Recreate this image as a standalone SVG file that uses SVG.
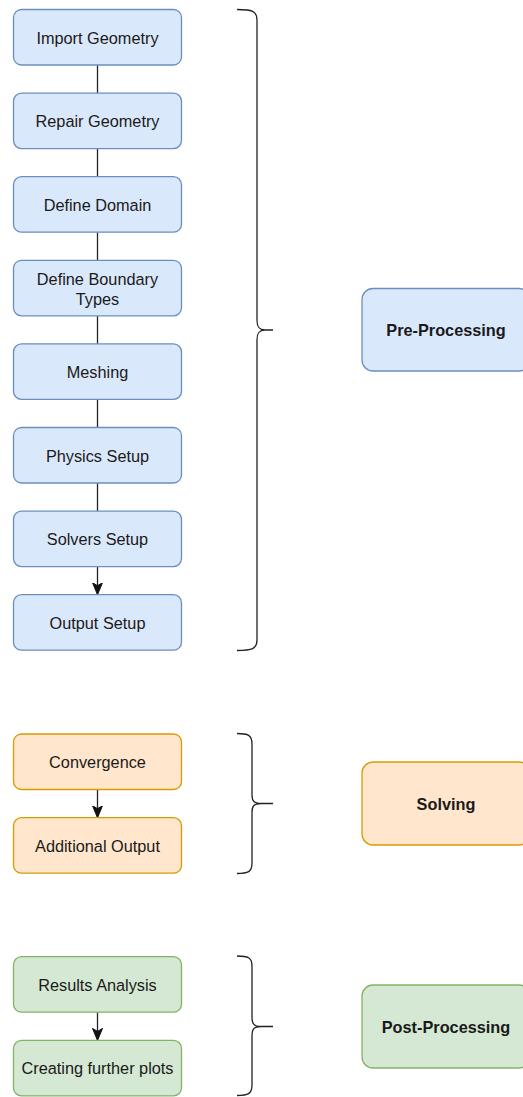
<svg xmlns="http://www.w3.org/2000/svg" width="523" height="1097" viewBox="0 0 523 1097">
<style>
.blue{fill:#dae8fc;stroke:#6c8ebf;stroke-width:1.3}
.orange{fill:#ffe6cc;stroke:#d79b00;stroke-width:1.3}
.green{fill:#d5e8d4;stroke:#82b366;stroke-width:1.3}
.t{font-family:"Liberation Sans",Arial,sans-serif;font-size:16.3px;fill:#1a1a1a;text-anchor:middle}
.b{font-weight:bold}
.c{fill:none;stroke:#222;stroke-width:1.3}
.br{fill:none;stroke:#222;stroke-width:1.3}
</style>
<defs>
<marker id="arr" markerUnits="userSpaceOnUse" viewBox="0 -6 13 12" refX="12" refY="0" markerWidth="13" markerHeight="12" orient="auto">
<path d="M0,-5 L12,0 L0,5 L3,0 Z" fill="#111" stroke="#111" stroke-width="1"/>
</marker>
</defs>
<g id="connectors">
<line class="c" x1="97.5" y1="65" x2="97.5" y2="93.1"/>
<line class="c" x1="97.5" y1="148.6" x2="97.5" y2="176.7"/>
<line class="c" x1="97.5" y1="232.2" x2="97.5" y2="260.3"/>
<line class="c" x1="97.5" y1="315.8" x2="97.5" y2="343.9"/>
<line class="c" x1="97.5" y1="399.4" x2="97.5" y2="427.5"/>
<line class="c" x1="97.5" y1="483" x2="97.5" y2="511.1"/>
<line class="c" x1="97.5" y1="566.6" x2="97.5" y2="594.7" marker-end="url(#arr)"/>
<line class="c" x1="97.5" y1="789.5" x2="97.5" y2="817.7" marker-end="url(#arr)"/>
<line class="c" x1="97.5" y1="1012.2" x2="97.5" y2="1040.4" marker-end="url(#arr)"/>
<path id="brace-pre" class="br" d="M237,9.5 C252,9.5 257,11 257,20 L257,320 C257,327 259,330 265,330 L273,330 M265,330 C259,330 257,333 257,340 L257,640 C257,649 252,650.5 237,650.5"/>
<path id="brace-solve" class="br" d="M237,733.5 C248,733.5 252,735 252,744 L252,795 C252,801 254,803.5 261,803.5 L273,803.5 M261,803.5 C254,803.5 252,806 252,812 L252,863 C252,872 248,873.5 237,873.5"/>
<path id="brace-post" class="br" d="M237,956 C248,956 252,957.5 252,966 L252,1017 C252,1024 254,1026.5 261,1026.5 L273,1026.5 M261,1026.5 C254,1026.5 252,1029 252,1036 L252,1085 C252,1094 248,1095.5 237,1095.5"/>
</g>
<g id="import-geometry"><rect class="blue" x="13.5" y="9.5" width="168" height="55.5" rx="8"/><text class="t" x="97.5" y="43.5">Import Geometry</text></g>
<g id="repair-geometry"><rect class="blue" x="13.5" y="93.1" width="168" height="55.5" rx="8"/><text class="t" x="97.5" y="127.1">Repair Geometry</text></g>
<g id="define-domain"><rect class="blue" x="13.5" y="176.7" width="168" height="55.5" rx="8"/><text class="t" x="97.5" y="210.7">Define Domain</text></g>
<g id="define-boundary"><rect class="blue" x="13.5" y="260.3" width="168" height="55.5" rx="8"/><text class="t" x="97.5" y="285">Define Boundary</text><text class="t" x="97.5" y="304.5">Types</text></g>
<g id="meshing"><rect class="blue" x="13.5" y="343.9" width="168" height="55.5" rx="8"/><text class="t" x="97.5" y="377.9">Meshing</text></g>
<g id="physics-setup"><rect class="blue" x="13.5" y="427.5" width="168" height="55.5" rx="8"/><text class="t" x="97.5" y="461.5">Physics Setup</text></g>
<g id="solvers-setup"><rect class="blue" x="13.5" y="511.1" width="168" height="55.5" rx="8"/><text class="t" x="97.5" y="545.1">Solvers Setup</text></g>
<g id="output-setup"><rect class="blue" x="13.5" y="594.7" width="168" height="55.5" rx="8"/><text class="t" x="97.5" y="628.7">Output Setup</text></g>
<g id="pre-processing"><rect class="blue" x="362" y="288.5" width="168" height="82.5" rx="11"/><text class="t b" x="446" y="336">Pre-Processing</text></g>
<g id="convergence"><rect class="orange" x="13.5" y="734" width="168" height="55.5" rx="8"/><text class="t" x="97.5" y="768">Convergence</text></g>
<g id="additional-output"><rect class="orange" x="13.5" y="817.7" width="168" height="55.5" rx="8"/><text class="t" x="97.5" y="851.7">Additional Output</text></g>
<g id="solving"><rect class="orange" x="362" y="762" width="168" height="83" rx="11"/><text class="t b" x="446" y="809.7">Solving</text></g>
<g id="results-analysis"><rect class="green" x="13.5" y="956.7" width="168" height="55.5" rx="8"/><text class="t" x="97.5" y="990.7">Results Analysis</text></g>
<g id="creating-plots"><rect class="green" x="13.5" y="1040.4" width="168" height="55.5" rx="8"/><text class="t" x="97.5" y="1074.4">Creating further plots</text></g>
<g id="post-processing"><rect class="green" x="362" y="985" width="168" height="83" rx="11"/><text class="t b" x="446" y="1032.7">Post-Processing</text></g>
</svg>
